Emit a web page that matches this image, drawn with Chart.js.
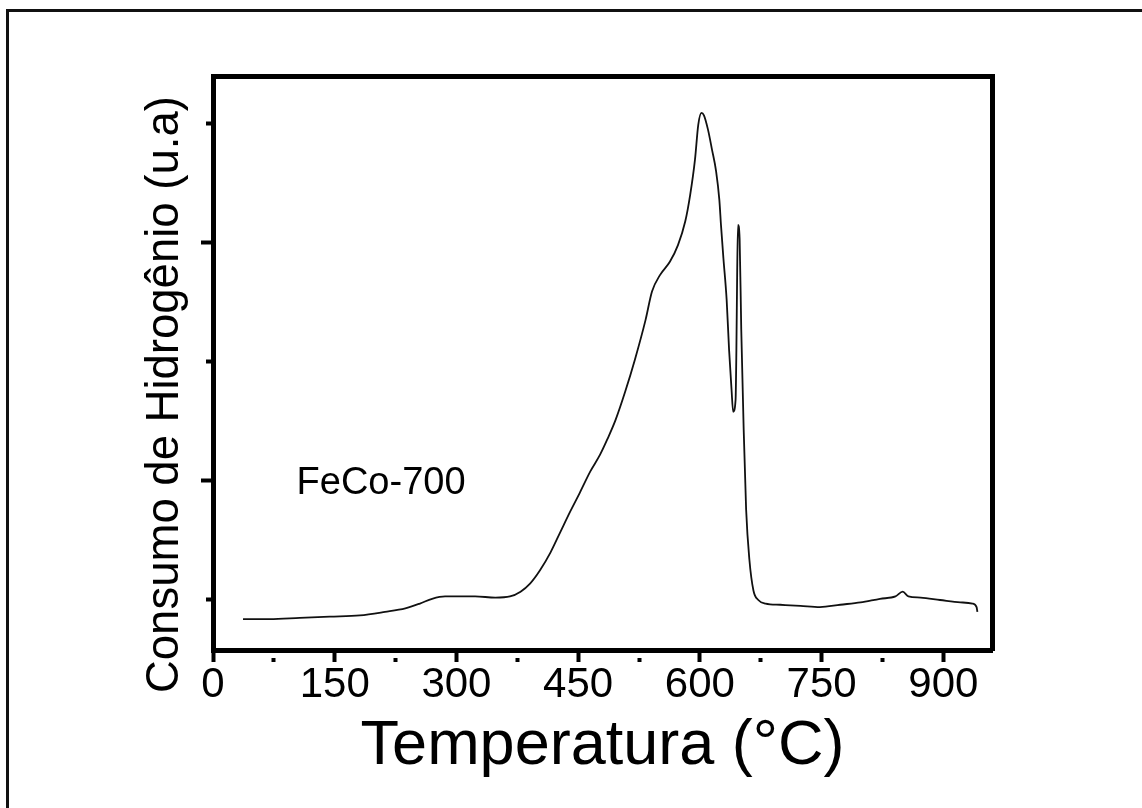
<!DOCTYPE html>
<html>
<head>
<meta charset="utf-8">
<script src="https://cdn.jsdelivr.net/npm/chart.js@4/dist/chart.umd.min.js"></script>
<style>
  html, body { margin: 0; padding: 0; background: #fff; }
  #wrap { position: relative; width: 1142px; height: 808px; overflow: hidden; }
  #frame { position: absolute; left: 6px; top: 9px; width: 1200px; height: 900px;
           border-top: 3px solid #111; border-left: 3px solid #111; pointer-events: none; }
  canvas { position: absolute; left: 0; top: 0; }
</style>
</head>
<body>
<div id="wrap">
  <canvas id="tpr" width="1142" height="808"></canvas>
  <div id="frame"></div>
</div>
<script>
// temperature (°C)
const temps = [37, 70, 107, 144, 181, 212, 237, 255, 270, 286, 302, 323, 348, 366, 379, 391,
  403, 416, 428, 440, 452, 465, 477, 486, 496, 508, 520, 533, 541, 551, 563, 573, 582, 588,
  594, 598, 602, 605, 610, 615, 620, 624, 626, 629, 633, 636, 639, 641, 644, 645, 646, 647,
  649, 651, 654, 657, 661, 666, 672, 681, 699, 724, 748, 773, 798, 822, 841, 850, 857, 872,
  896, 921, 936, 941, 942];
// hydrogen consumption (a.u.)
const h2 = [-0.16, -0.16, -0.15, -0.14, -0.13, -0.10, -0.07, -0.03, 0.01, 0.03, 0.03, 0.03,
  0.02, 0.03, 0.07, 0.14, 0.25, 0.40, 0.57, 0.74, 0.90, 1.08, 1.22, 1.35, 1.51, 1.75, 2.02,
  2.35, 2.59, 2.73, 2.84, 2.98, 3.18, 3.40, 3.70, 3.99, 4.09, 4.07, 3.95, 3.78, 3.60, 3.36,
  3.15, 2.87, 2.52, 2.10, 1.77, 1.58, 1.68, 2.10, 2.77, 3.15, 3.03, 2.27, 1.43, 0.76, 0.34,
  0.08, 0.00, -0.03, -0.04, -0.05, -0.06, -0.04, -0.02, 0.01, 0.03, 0.07, 0.03, 0.02, 0.00,
  -0.02, -0.03, -0.06, -0.10];

const xTickLabels = ['0', '150', '300', '450', '600', '750', '900'];
const sampleName = 'FeCo-700';
const sampleAt = { x: 103, y: 0.98 };

const FONT = 'Arial, "Liberation Sans", sans-serif';
const points = temps.map((t, i) => ({ x: t, y: h2[i] }));

// minor ticks: skip the outer part of the tick line so only a short stub touches the axis
const MINOR_DASH = [0, 5, 5, 100];

const sampleLabel = {
  id: 'sampleLabel',
  afterDatasetsDraw(chart) {
    const { ctx, scales } = chart;
    ctx.save();
    ctx.font = '38px ' + FONT;
    ctx.fillStyle = '#000';
    ctx.textBaseline = 'middle';
    ctx.fillText(sampleName, scales.x.getPixelForValue(sampleAt.x), scales.y.getPixelForValue(sampleAt.y));
    ctx.restore();
  }
};

new Chart(document.getElementById('tpr').getContext('2d'), {
  type: 'line',
  data: {
    datasets: [{
      data: points,
      borderColor: '#111',
      borderWidth: 1.8,
      pointRadius: 0,
      cubicInterpolationMode: 'monotone',
      fill: false
    }]
  },
  options: {
    responsive: false,
    animation: false,
    layout: { padding: 0 },
    plugins: { legend: { display: false }, tooltip: { enabled: false } },
    scales: {
      x: {
        type: 'linear',
        position: 'bottom',
        min: 0,
        max: 960,
        afterFit: s => { s.height = 158; },
        afterBuildTicks: s => {
          s.ticks = [];
          for (let v = 0; v <= 900; v += 75) s.ticks.push({ value: v });
        },
        ticks: {
          autoSkip: false,
          maxRotation: 0,
          padding: 2,
          color: '#000',
          font: { family: FONT, size: 42, lineHeight: 1 },
          callback: v => (v % 150 === 0 ? xTickLabels[v / 150] : '')
        },
        grid: {
          drawOnChartArea: false,
          tickLength: 12,
          tickWidth: 4,
          tickColor: '#000',
          tickBorderDash: c => (c.tick && c.tick.value % 150 === 0 ? [] : MINOR_DASH)
        },
        border: { display: true, width: 5, color: '#000' },
        title: {
          display: true,
          text: 'Temperatura (°C)',
          color: '#000',
          font: { family: FONT, size: 63, lineHeight: 1.2 },
          padding: { top: 0, bottom: 24 }
        }
      },
      x2: {
        type: 'linear',
        position: 'top',
        min: 0,
        max: 960,
        afterFit: s => { s.height = 76; },
        ticks: { display: false },
        grid: { drawOnChartArea: false, drawTicks: false },
        border: { display: true, width: 5, color: '#000' }
      },
      y: {
        type: 'linear',
        position: 'left',
        min: -0.42,
        max: 4.40,
        afterFit: s => { s.width = 213; },
        afterBuildTicks: s => {
          s.ticks = [0, 1, 2, 3, 4].map(v => ({ value: v }));
        },
        ticks: { callback: () => '', padding: 0 },
        grid: {
          drawOnChartArea: false,
          tickLength: 12,
          tickWidth: 4,
          tickColor: '#000',
          tickBorderDash: c => (c.tick && (c.tick.value === 1 || c.tick.value === 3) ? [] : MINOR_DASH)
        },
        border: { display: true, width: 5, color: '#000' },
        title: {
          display: true,
          text: 'Consumo de Hidrogênio (u.a)\u00a0\u00a0\u00a0\u00a0\u00a0',
          color: '#000',
          font: { family: FONT, size: 45.5, lineHeight: 1.2 },
          padding: { top: 138, bottom: 0 }
        }
      },
      y2: {
        type: 'linear',
        position: 'right',
        min: -0.42,
        max: 4.40,
        afterFit: s => { s.width = 150; },
        ticks: { display: false },
        grid: { drawOnChartArea: false, drawTicks: false },
        border: { display: true, width: 5, color: '#000' }
      }
    }
  },
  plugins: [sampleLabel]
});
</script>
</body>
</html>
